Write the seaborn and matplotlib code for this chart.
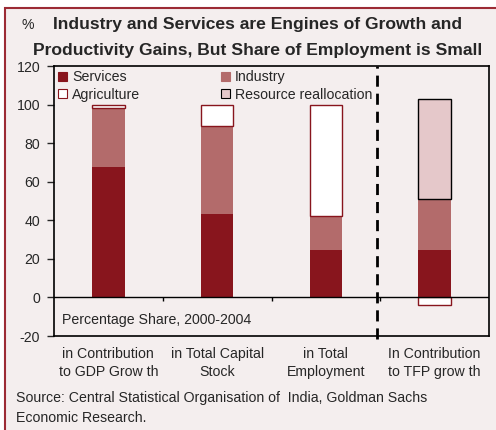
import matplotlib
matplotlib.use("Agg")
import matplotlib.pyplot as plt
from matplotlib.patches import Patch, Rectangle
import numpy as np
import pandas as pd
import seaborn as sns

# Percentage shares, 2000-2004
categories = ["in Contribution\nto GDP Grow th", "in Total Capital\nStock",
              "in Total\nEmployment", "In Contribution\nto TFP grow th"]
services = [67.5, 43.5, 24.5, 24.5]
industry = [30.5, 45.5, 17.5, 26.5]
agriculture = [2.0, 11.0, 58.0, -4.0]
resource_reallocation = [0.0, 0.0, 0.0, 52.0]

ytick_values = [-20, 0, 20, 40, 60, 80, 100, 120]

C_SERV = "#88151D"
C_IND = "#B36B6B"
C_AGRI = "#FFFFFF"
C_RES = "#E5C8CA"
BG = "#F4EEEE"
BORDER = "#9C2B35"
FS = 10.2

sns.set_theme(style="white")
plt.rcParams["font.family"] = ["Liberation Sans", "DejaVu Sans"]

df = pd.DataFrame({
    "category": categories,
    "Services": services,
    "Industry": industry,
    "Agriculture": agriculture,
    "Resource reallocation": resource_reallocation,
})
df["ind_bottom"] = df["Services"]
df["agri_bottom"] = np.where(df["Agriculture"] >= 0, df["Services"] + df["Industry"], 0.0)
df["res_bottom"] = df["Services"] + df["Industry"] + df["Agriculture"].clip(lower=0)

fig = plt.figure(figsize=(4.96, 4.30), dpi=100, facecolor="white")
frame = Rectangle((4.5 / 496, -0.1), 1.2, 1.1 - 8 / 430,
                  transform=fig.transFigure, facecolor=BG,
                  edgecolor=BORDER, linewidth=1.5, zorder=-10)
fig.add_artist(frame)
ax = fig.add_axes([54 / 496, 94 / 430, 435 / 496, 270 / 430])
ax.set_facecolor(BG)
ax.set_zorder(1)

w = 0.3
sns.barplot(data=df, x="category", y="Services", color=C_SERV, saturation=1,
            width=w, linewidth=0, ax=ax, zorder=2)
sns.barplot(data=df, x="category", y="Industry", bottom=df["ind_bottom"],
            color=C_IND, saturation=1, width=w, linewidth=0, ax=ax, zorder=2)
sns.barplot(data=df, x="category", y="Agriculture", bottom=df["agri_bottom"],
            color=C_AGRI, saturation=1, width=w, edgecolor=C_SERV,
            linewidth=1.0, ax=ax, zorder=2)
res = df[df["Resource reallocation"] > 0]
ax.bar(res.index, res["Resource reallocation"], bottom=res["res_bottom"],
       width=w, color=C_RES, edgecolor="black", linewidth=1.0, zorder=2)

ax.set_xlim(-0.5, 3.5)
ax.set_ylim(-20, 120)
ax.set_yticks(ytick_values)
ax.set_yticklabels([str(v) for v in ytick_values], fontsize=FS)
ax.set_xticks(range(len(categories)))
ax.set_xticklabels(categories, fontsize=FS, linespacing=1.35)
ax.tick_params(axis="x", length=0, pad=8)
ax.tick_params(axis="y", length=5, width=1, direction="out", pad=5, left=True)
ax.set_xlabel("")
ax.set_ylabel("")

for s in ax.spines.values():
    s.set_color("black")
    s.set_linewidth(1.2)
    s.set_visible(True)

# zero line with category separators
ax.axhline(0, color="black", linewidth=1.0, zorder=3)
ax.vlines([0.5, 1.5, 2.5], -1.8, 0, color="black", linewidth=1.0, zorder=3)

# divider between the share panels and the TFP contribution
ax.axvline(2.47, color="black", linewidth=2.0, linestyle=(0, (4, 2.5)), zorder=3,
           clip_on=False, ymin=-0.01, ymax=1.0)

ax.text(8 / 435, 16 / 270, "Percentage Share, 2000-2004", transform=ax.transAxes,
        fontsize=FS, va="center", ha="left")

handles = [Patch(facecolor=C_SERV, edgecolor=C_SERV, linewidth=0.8),
           Patch(facecolor=C_AGRI, edgecolor=C_SERV, linewidth=0.8),
           Patch(facecolor=C_IND, edgecolor=C_IND, linewidth=0.8),
           Patch(facecolor=C_RES, edgecolor="black", linewidth=0.8)]
labels = ["Services", "Agriculture", "Industry", "Resource reallocation"]
ax.legend(handles, labels, ncol=2, loc="upper left",
          bbox_to_anchor=(4 / 435, 1 - 4 / 270), frameon=False, fontsize=FS,
          handlelength=0.6, handleheight=0.6, handletextpad=0.4,
          columnspacing=5.7, labelspacing=0.25, borderpad=0, borderaxespad=0)

fig.text(22 / 496, 1 - 25 / 430, "%", fontsize=FS, ha="left", va="center")
fig.text(258 / 496, 1 - 25 / 430, "Industry and Services are Engines of Growth and",
         fontsize=12.6, fontweight="bold", ha="center", va="center")
fig.text(258 / 496, 1 - 50 / 430, "Productivity Gains, But Share of Employment is Small",
         fontsize=12.6, fontweight="bold", ha="center", va="center")
fig.text(16 / 496, 1 - 398 / 430,
         "Source: Central Statistical Organisation of  India, Goldman Sachs",
         fontsize=FS, ha="left", va="center")
fig.text(16 / 496, 1 - 418 / 430, "Economic Research.",
         fontsize=FS, ha="left", va="center")

fig.savefig("out.png", dpi=100, facecolor="white")
